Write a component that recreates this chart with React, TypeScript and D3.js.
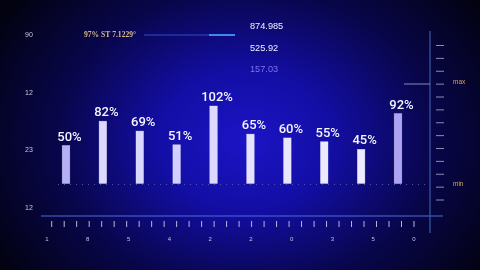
import React from "react";
import * as d3 from "d3";

const categories = ["c1", "c2", "c3", "c4", "c5", "c6", "c7", "c8", "c9", "c10"];
const values = [50, 82, 69, 51, 102, 65, 60, 55, 45, 92];
const barColors = ["#b6b0f4", "#dcd9ff", "#d9d6ff", "#d2ceff", "#dcd8ff", "#e4e2ff", "#e8e6ff", "#ebeaff", "#ecebff", "#aca3f2"];
const xTickLabels = ["1", "8", "5", "4", "2", "2", "0", "3", "5", "0"];
const leftLabels = ["90", "12", "23", "12"];
const topValues = ["874.985", "525.92", "157.03"];
const topValueColors = ["#f2f2ff", "#f2f2ff", "#7f72ea"];
const annotation = "97% ST 7.1229°";
const minorTickCount = 30;
const rightTickCount = 13;

export default function App() {
  const W = 480, H = 270;
  const x = d3.scalePoint<string>().domain(categories).range([66, 398]);
  const y = d3.scaleLinear().domain([0, 100]).range([183.5, 107.5]);
  const bw = 7.6;
  const minor = d3.scaleLinear().domain([0, minorTickCount - 1]).range([51.7, 414]);
  const xl = d3.scalePoint<string>().domain(xTickLabels.map((_, i) => String(i))).range([47, 414]);
  const ly = d3.scalePoint<string>().domain(leftLabels.map((_, i) => String(i))).range([35, 208]);
  const ry = d3.scaleLinear().domain([0, rightTickCount - 1]).range([45.5, 200]);
  const ty = d3.scalePoint<string>().domain(topValues.map((_, i) => String(i))).range([27, 69.5]);

  return (
    <svg width={W} height={H} style={{ position: "fixed", left: 0, top: 0 }}>
      <defs>
        <radialGradient id="bg" cx="245" cy="140" r="290" gradientUnits="userSpaceOnUse" gradientTransform="translate(245 140) scale(1 0.8) translate(-245 -140)">
          <stop offset="0" stopColor="#1c14c6" />
          <stop offset="0.3" stopColor="#130ea4" />
          <stop offset="0.65" stopColor="#08064a" />
          <stop offset="1" stopColor="#020210" />
        </radialGradient>
      </defs>
      <rect width={W} height={H} fill="url(#bg)" />

      {/* left labels */}
      {leftLabels.map((t, i) => (
        <text key={"l" + i} x={29} y={ly(String(i))} fill="#c9c9dc" fontSize={7} fontFamily="Liberation Sans, Arial, sans-serif" textAnchor="middle" dominantBaseline="middle">{t}</text>
      ))}

      {/* annotation */}
      <text x={84} y={35} fill="#d6b88a" fontSize={7.6} fontFamily="Liberation Serif, serif" fontWeight="bold" dominantBaseline="middle">{annotation}</text>
      <line x1={144} x2={235} y1={35} y2={35} stroke="#2f4cc8" strokeWidth={1.2} />
      <line x1={209} x2={235} y1={35} y2={35} stroke="#47a2ff" strokeWidth={1.6} />

      {/* top values */}
      {topValues.map((t, i) => (
        <text key={"t" + i} x={250} y={ty(String(i))} fill={topValueColors[i]} fontSize={9.2} fontFamily="Liberation Sans, Arial, sans-serif" dominantBaseline="middle">{t}</text>
      ))}

      {/* dotted baseline */}
      <line x1={58} x2={428} y1={184.5} y2={184.5} stroke="#4a56a8" strokeWidth={1} strokeDasharray="1 5" />

      {/* bars */}
      {values.map((v, i) => {
        const cx = x(categories[i])!;
        return (
          <g key={"b" + i}>
            <rect x={cx - bw / 2} y={y(v)} width={bw} height={y(0) - y(v)} fill={barColors[i]} stroke="#f0efff" strokeOpacity={0.5} strokeWidth={0.6} />
            <text x={cx + 3.5} y={y(v) - 5} fill="#f4f4ff" fontSize={13} fontWeight={500} fontFamily="Roboto, sans-serif" textAnchor="middle">{v + "%"}</text>
          </g>
        );
      })}

      {/* horizontal axis */}
      <line x1={41} x2={443} y1={216} y2={216} stroke="#4a6ee0" strokeWidth={1.2} />
      {d3.range(minorTickCount).map((i) => (
        <line key={"m" + i} x1={minor(i)} x2={minor(i)} y1={221} y2={227} stroke="#b8b8d6" strokeWidth={1} />
      ))}
      {xTickLabels.map((t, i) => (
        <text key={"x" + i} x={xl(String(i))} y={239.5} fill="#c4c4dc" fontSize={6} fontFamily="Liberation Sans, Arial, sans-serif" textAnchor="middle" dominantBaseline="middle">{t}</text>
      ))}

      {/* right scale */}
      <line x1={430} x2={430} y1={31} y2={233} stroke="#3a5aa6" strokeWidth={1.2} />
      {d3.range(rightTickCount).map((i) => (
        <line key={"r" + i} x1={436} x2={444} y1={ry(i)} y2={ry(i)} stroke="#8c8cb0" strokeWidth={1} />
      ))}
      <line x1={404} x2={430} y1={84} y2={84} stroke="#6e7aa4" strokeWidth={1.2} />
      <text x={453} y={82} fill="#d4a95e" fontSize={6.5} fontFamily="Liberation Sans, Arial, sans-serif" dominantBaseline="middle">max</text>
      <text x={453} y={184} fill="#d4a95e" fontSize={6.5} fontFamily="Liberation Sans, Arial, sans-serif" dominantBaseline="middle">min</text>
    </svg>
  );
}
